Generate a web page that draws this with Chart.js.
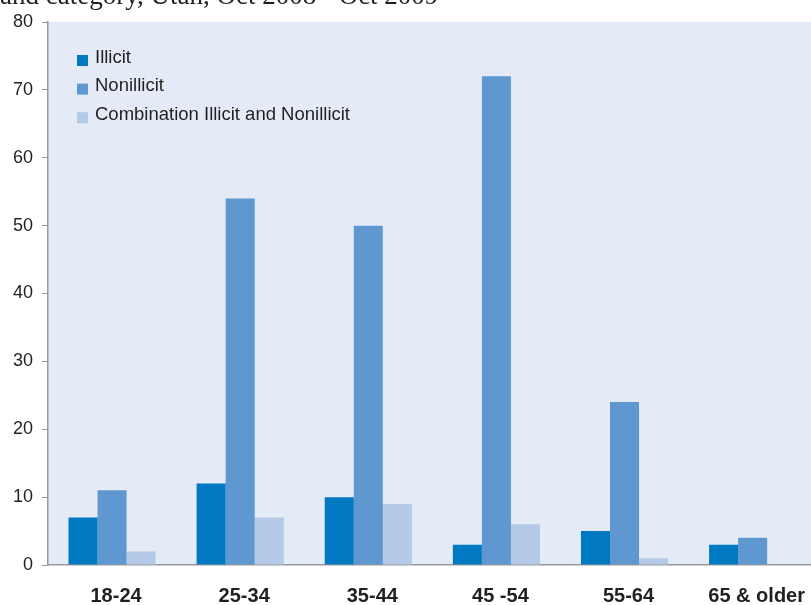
<!DOCTYPE html>
<html>
<head>
<meta charset="utf-8">
<script src="https://cdn.jsdelivr.net/npm/chart.js@4.4.0/dist/chart.umd.min.js"></script>
<style>
  html, body { margin: 0; padding: 0; background: #ffffff; overflow: hidden; width: 811px; height: 605px; }
  #wrap { position: relative; width: 811px; height: 605px; overflow: hidden; }
  #c { position: absolute; left: 0; top: 0; }
  #ttl { position: absolute; left: 0; top: -18.5px; font-family: "Liberation Serif", "Times New Roman", serif; font-size: 27px; line-height: 27px; color: #231f20; white-space: nowrap; z-index: 2; }
</style>
</head>
<body>
<div id="wrap">
  <div id="ttl">and category, Utah, Oct 2008 - Oct 2009</div>
  <canvas id="c" width="820" height="605" style="width:820px;height:605px;"></canvas>
</div>
<script>
const categories = ["18-24", "25-34", "35-44", "45 -54", "55-64", "65 & older"];
const illicit = [7, 12, 10, 3, 5, 3];
const nonillicit = [11, 54, 50, 72, 24, 4];
const combination = [2, 7, 9, 6, 1, 0];
const seriesNames = ["Illicit", "Nonillicit", "Combination Illicit and Nonillicit"];
const yTicks = [0, 10, 20, 30, 40, 50, 60, 70, 80];

const colors = ["#0079c2", "#5f98d1", "#b4cae7"];

const bgPlugin = {
  id: 'bgPlugin',
  beforeDraw(chart) {
    const {ctx, chartArea: a} = chart;
    ctx.save();
    ctx.fillStyle = '#e4ebf6';
    ctx.fillRect(a.left, a.top, a.right - a.left, a.bottom - a.top);
    ctx.restore();
  }
};

const legendPlugin = {
  id: 'legendPlugin',
  afterDraw(chart) {
    const {ctx, chartArea: a} = chart;
    ctx.save();
    ctx.font = '18.5px "Liberation Sans", Arial, sans-serif';
    ctx.textBaseline = 'middle';
    ctx.textAlign = 'left';
    chart.data.datasets.forEach((ds, i) => {
      const cy = a.top + 35.5 + i * 28.6;
      ctx.fillStyle = ds.backgroundColor;
      ctx.fillRect(a.left + 29, cy - 2.5, 11, 11);
      ctx.fillStyle = '#231f20';
      ctx.fillText(ds.label, a.left + 47, cy);
    });
    ctx.restore();
  }
};

new Chart(document.getElementById('c'), {
  type: 'bar',
  data: {
    labels: categories,
    datasets: [
      { label: seriesNames[0], data: illicit, backgroundColor: colors[0] },
      { label: seriesNames[1], data: nonillicit, backgroundColor: colors[1] },
      { label: seriesNames[2], data: combination, backgroundColor: colors[2] }
    ]
  },
  options: {
    responsive: false,
    animation: false,
    devicePixelRatio: 1,
    layout: { padding: { top: 22, left: 0, right: 0, bottom: 0 } },
    datasets: { bar: { barPercentage: 1.0, categoryPercentage: 0.68, borderWidth: 0 } },
    plugins: { legend: { display: false }, tooltip: { enabled: false }, title: { display: false } },
    scales: {
      x: {
        grid: { display: false, drawTicks: false },
        border: { display: true, color: '#9a9a9a', width: 1.5 },
        ticks: { color: '#231f20', font: { family: '"Liberation Sans", Arial, sans-serif', size: 20, weight: 'bold' }, padding: 19, labelOffset: 4, maxRotation: 0, autoSkip: false },
        afterFit(scale) { scale.height = 40; }
      },
      y: {
        min: 0, max: 80,
        afterBuildTicks(scale) { scale.ticks = yTicks.map(v => ({ value: v })); },
        grid: { display: true, drawOnChartArea: false, drawTicks: true, tickLength: 6, color: '#9a9a9a', lineWidth: 1 },
        border: { display: true, color: '#9a9a9a', width: 1.5 },
        ticks: { color: '#231f20', font: { family: '"Liberation Sans", Arial, sans-serif', size: 18 }, padding: 9 },
        afterFit(scale) { scale.width = 48; }
      }
    }
  },
  plugins: [bgPlugin, legendPlugin]
});
</script>
</body>
</html>
